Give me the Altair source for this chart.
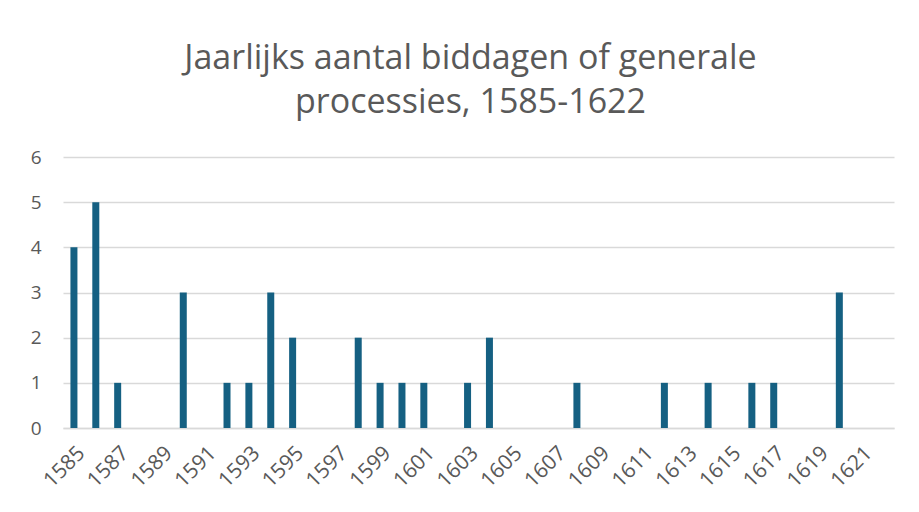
import altair as alt
import pandas as pd

years = [str(y) for y in range(1585, 1623)]
counts = [4, 5, 1, 0, 0, 3, 0, 1, 1, 3, 2, 0, 0, 2, 1, 1, 1, 0, 1, 2,
          0, 0, 0, 1, 0, 0, 0, 1, 0, 1, 0, 1, 1, 0, 0, 3, 0, 0]
x_labels = [str(y) for y in range(1585, 1623, 2)]
title_lines = ["Jaarlijks aantal biddagen of generale", "processies, 1585-1622"]

df = pd.DataFrame({"jaar": years, "aantal": counts})

font = "Open Sans"
grey = "#595959"

chart = alt.Chart(df).mark_bar(color="#156082", size=7).encode(
    x=alt.X("jaar:O", sort=years, title=None,
            scale=alt.Scale(paddingInner=0, paddingOuter=0),
            axis=alt.Axis(values=x_labels, labelAngle=-45, ticks=False,
                          domain=True, domainColor="#D9D9D9", domainWidth=1.5,
                          labelFont=font, labelFontSize=21, labelColor=grey,
                          labelPadding=14, grid=False)),
    y=alt.Y("aantal:Q", title=None,
            scale=alt.Scale(domain=[0, 6]),
            axis=alt.Axis(values=[0, 1, 2, 3, 4, 5, 6], ticks=False, domain=False,
                          labelFont=font, labelFontSize=19, labelColor=grey,
                          labelPadding=22, gridColor="#D9D9D9", gridWidth=1.5)),
).properties(
    width=831, height=271,
    title=alt.TitleParams(title_lines, font=font, fontSize=34, fontWeight="normal",
                          color=grey, anchor="middle", dx=-8, offset=28,
                          lineHeight=44),
    autosize=alt.AutoSizeParams(type="none"),
    padding={"left": 55, "top": 149, "right": 6, "bottom": 72},
).configure(background="white").configure_view(stroke=None)

chart.save("out.html", embed_options={"renderer": "svg", "actions": False})
